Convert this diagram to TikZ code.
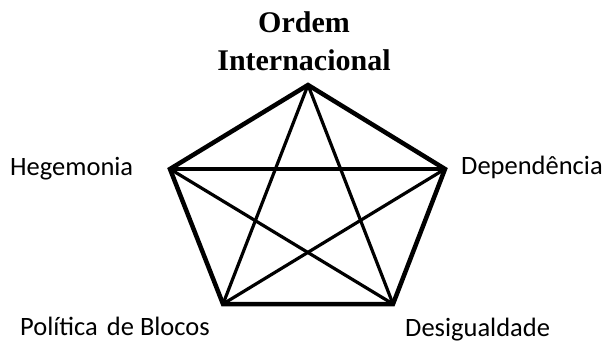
\documentclass[tikz,border=0pt]{standalone}
\usepackage{fontspec}
\setmainfont{Carlito}
\newfontfamily\titlefont{Liberation Serif}
\usepackage{tikz}
\usetikzlibrary{positioning}

\begin{document}
\begin{tikzpicture}[
    x=1pt, y=-1pt,
    vlabel/.style={inner sep=0pt, font=\fontsize{26.5}{32}\selectfont},
    tlabel/.style={inner sep=0pt, align=center, font=\titlefont\bfseries\fontsize{30}{38}\selectfont},
    edge/.style={line width=4.5pt, line join=miter},
    chord/.style={line width=3.2pt, line cap=round}
]
\useasboundingbox (0,0) rectangle (607,342);

% Vertices
\coordinate (ordem) at (308,85);
\coordinate (hegem) at (170,169);
\coordinate (depend) at (445,169);
\coordinate (blocos) at (223,304);
\coordinate (desig) at (393,304);

% Labels
\node (lblordem) [tlabel, anchor=base] at (304,71) {Ordem\\Internacional};
\node (lblhegem) [vlabel, anchor=base west] at (10,175) {Hegemonia};
\node (lbldepend) [vlabel, anchor=base west] at (461,174) {Dependência};
\node (lblblocos) [vlabel, anchor=base west] at (20,335) {Política\hspace{3pt} de Blocos};
\node (lbldesig) [vlabel, anchor=base west] at (405,336) {Desigualdade};

% Diagonals
\draw [chord] (ordem) -- (blocos);
\draw [chord] (ordem) -- (desig);
\draw [chord] (hegem) -- (depend);
\draw [chord] (hegem) -- (desig);
\draw [chord] (depend) -- (blocos);

% Pentagon
\draw [edge] (ordem) -- (depend) -- (desig) -- (blocos) -- (hegem) -- cycle;

\end{tikzpicture}
\end{document}
